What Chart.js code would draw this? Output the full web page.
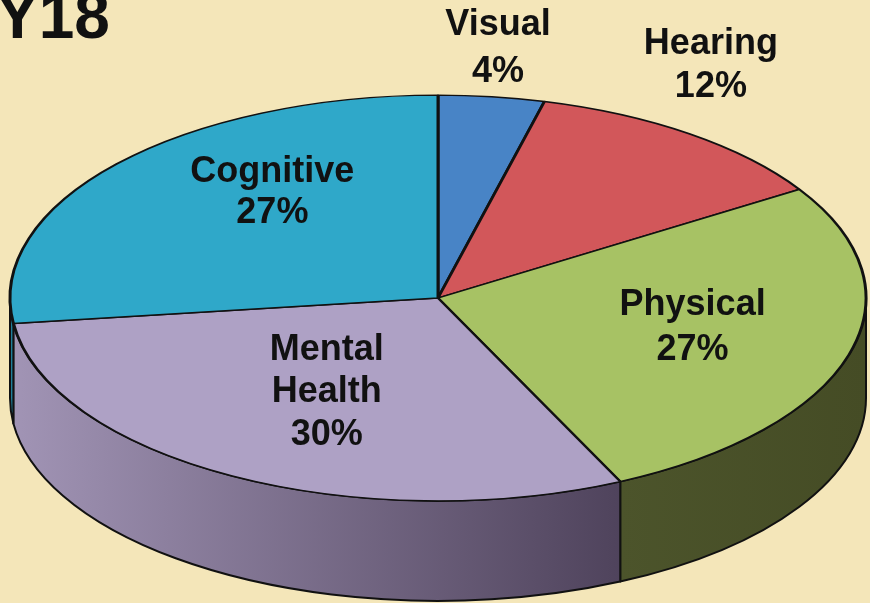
<!DOCTYPE html>
<html><head><meta charset="utf-8">
<script src="https://cdn.jsdelivr.net/npm/chart.js@4/dist/chart.umd.min.js"></script>
<style>
html,body{margin:0;padding:0;background:#f4e6b9;overflow:hidden;}
#wrap{width:870px;height:603px;position:relative;}
canvas{display:block;}
</style>
</head><body>
<div id="wrap"><canvas id="c" width="870" height="603"></canvas></div>
<script>
// ---- data ----
const categories = ['Visual', 'Hearing', 'Physical', 'Mental Health', 'Cognitive'];
const percentages = [4, 12, 27, 30, 27];
const titleText = 'Y18';

// ---- style ----
const topColors  = ['#4884c6', '#d2575a', '#a7c264', '#aea1c5', '#2fa8c9'];
const sideColorsL = ['#2f5f94', '#8e3236', '#4c542b', '#a194b5', '#1f7f9a'];
const sideColorsR = ['#2f5f94', '#8e3236', '#454c25', '#4f435c', '#1f7f9a'];
const BG = '#f4e6b9';
const RADIUS = 428;       // horizontal radius of the top face
const TILT = 0.474;       // vertical squash
const DEPTH = 100;        // thickness of the pie
const labelPlacement = [  // radius fraction along slice mid-angle + nudge
  {f: 1.25, dx: -7,  dy: 2,   lh: 47},
  {f: 1.20, dx: -29, dy: -35, lh: 43},
  {f: 0.60, dx: 8,   dy: -4,  lh: 45},
  {f: 0.53, dx: -2,  dy: 0,   lh: 42.5},
  {f: 0.60, dx: 27,  dy: -25, lh: 41}
];
const FONT = 'bold 36px "Liberation Sans", Arial, Helvetica, sans-serif';

const bgPlugin = {
  id: 'bg',
  beforeDraw(chart) {
    const ctx = chart.ctx;
    ctx.save();
    ctx.fillStyle = BG;
    ctx.fillRect(0, 0, chart.width, chart.height);
    ctx.restore();
  }
};

const pie3d = {
  id: 'pie3d',
  beforeDatasetsDraw(chart) {
    const ctx = chart.ctx;
    const arcs = chart.getDatasetMeta(0).data;
    const cx = arcs[0].x, cy = arcs[0].y, r = arcs[0].outerRadius, ry = r * TILT;
    arcs.forEach((a, i) => {
      const s = Math.max(a.startAngle, 0), e = Math.min(a.endAngle, Math.PI);
      if (e <= s) return;
      ctx.save();
      ctx.beginPath();
      ctx.ellipse(cx, cy, r, ry, 0, s, e, false);
      ctx.lineTo(cx + r * Math.cos(e), cy + ry * Math.sin(e) + DEPTH);
      ctx.ellipse(cx, cy + DEPTH, r, ry, 0, e, s, true);
      ctx.closePath();
      const x0 = cx + r * Math.cos(e), x1 = cx + r * Math.cos(s);
      const g = ctx.createLinearGradient(Math.min(x0, x1), 0, Math.max(x0, x1), 0);
      g.addColorStop(0, sideColorsL[i]);
      g.addColorStop(1, sideColorsR[i]);
      ctx.fillStyle = g;
      ctx.fill();
      ctx.lineWidth = 2;
      ctx.strokeStyle = '#111';
      ctx.lineJoin = 'round';
      ctx.stroke();
      ctx.restore();
    });
    ctx.save();
    ctx.translate(cx, cy);
    ctx.scale(1, TILT);
    ctx.translate(-cx, -cy);
  },
  afterDatasetsDraw(chart) {
    chart.ctx.restore();
  }
};

const labelsPlugin = {
  id: 'labels3d',
  afterDraw(chart) {
    const ctx = chart.ctx;
    const arcs = chart.getDatasetMeta(0).data;
    ctx.save();
    ctx.fillStyle = '#111';
    ctx.textAlign = 'center';
    ctx.textBaseline = 'middle';
    ctx.font = FONT;
    arcs.forEach((a, i) => {
      const p = labelPlacement[i];
      const mid = (a.startAngle + a.endAngle) / 2;
      const rr = a.outerRadius * p.f;
      const x = a.x + rr * Math.cos(mid) + p.dx;
      const y = a.y + rr * TILT * Math.sin(mid) + p.dy;
      const lines = categories[i].split(' ').concat([percentages[i] + '%']);
      lines.forEach((t, k) => {
        ctx.fillText(t, x, y + (k - (lines.length - 1) / 2) * p.lh);
      });
    });
    ctx.font = 'bold 64px "Liberation Sans", Arial, Helvetica, sans-serif';
    ctx.textAlign = 'left';
    ctx.textBaseline = 'alphabetic';
    ctx.fillText(titleText, -4, 38);
    ctx.restore();
  }
};

new Chart(document.getElementById('c'), {
  type: 'pie',
  data: {
    labels: categories,
    datasets: [{
      data: percentages,
      backgroundColor: topColors,
      borderColor: '#111',
      borderWidth: 3,
      radius: RADIUS,
      clip: false
    }]
  },
  options: {
    responsive: false,
    animation: false,
    events: [],
    layout: {padding: {left: 6, right: 0, top: 0, bottom: 7}},
    plugins: {legend: {display: false}, tooltip: {enabled: false}, title: {display: false}}
  },
  plugins: [bgPlugin, pie3d, labelsPlugin]
});
</script>
</body></html>
